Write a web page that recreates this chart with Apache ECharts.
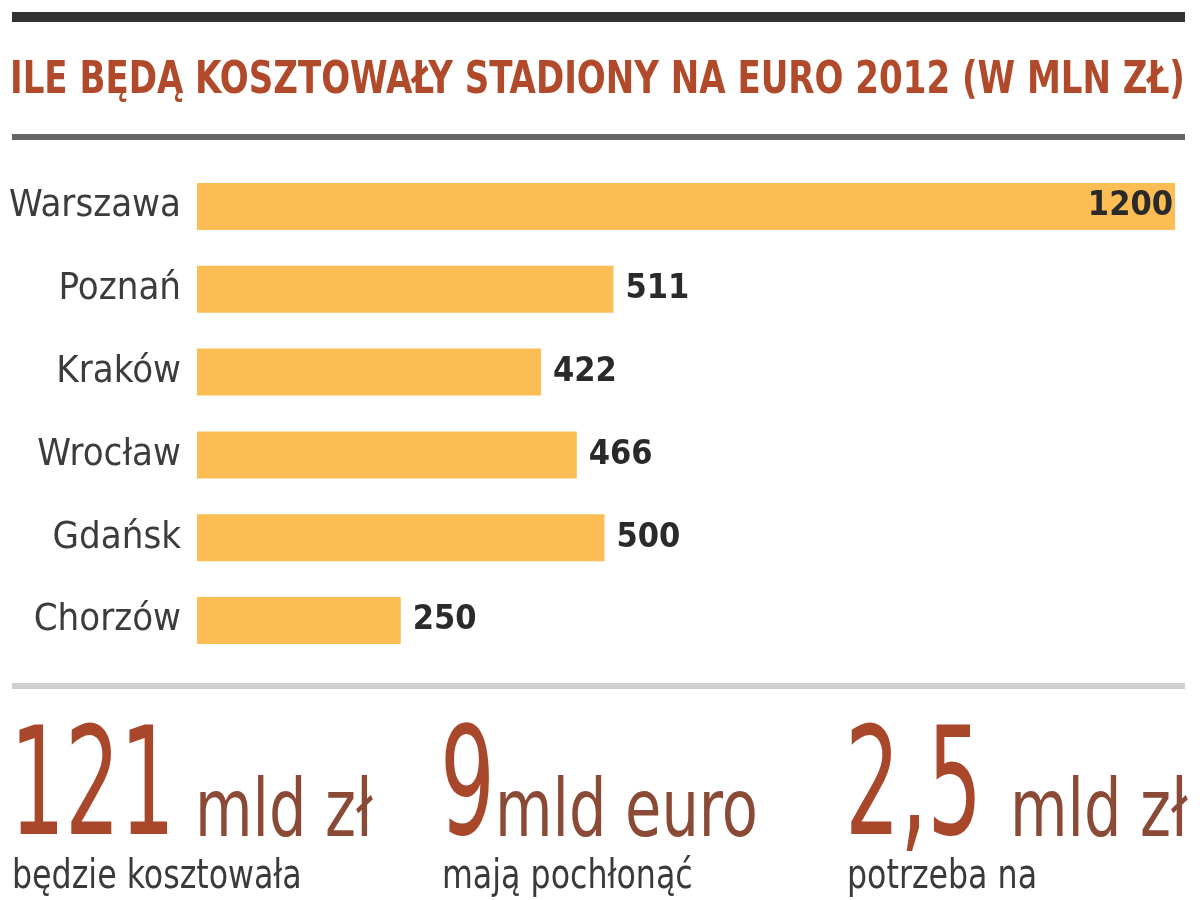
<!DOCTYPE html>
<html>
<head>
<meta charset="utf-8">
<script src="https://cdn.jsdelivr.net/npm/echarts@6/dist/echarts.min.js"></script>
<style>
  html, body { margin: 0; padding: 0; background: #fff; }
  #chart { width: 1200px; height: 900px; }
</style>
</head>
<body>
<div id="chart"></div>
<script>
// koszty stadionów (mln zł)
const cities = ['Warszawa', 'Poznań', 'Kraków', 'Wrocław', 'Gdańsk', 'Chorzów']
const costs = [1200, 511, 422, 466, 500, 250]

const bigNumbers = ['121', '9', '2,5']
const bigUnits = ['mld zł', 'mld euro', 'mld zł']
const captions = ['będzie kosztowała', 'mają pochłonąć', 'potrzeba na']

const narrow = '"Liberation Sans Narrow", "DejaVu Sans Condensed", "Roboto Condensed", sans-serif'
const brick = '#a9472b'

const chart = echarts.init(document.getElementById('chart'))

const colX = [10, 440, 845]
const unitX = [195, 495, 1010]

const bottomTexts = []
bigNumbers.forEach((n, i) => {
  bottomTexts.push({
    type: 'text', x: colX[i], y: 870, scaleX: 0.64,
    style: { text: n, font: '150px ' + narrow, fill: brick, textVerticalAlign: 'bottom' }
  })
  bottomTexts.push({
    type: 'text', x: unitX[i], y: 855, scaleX: 0.82,
    style: { text: bigUnits[i], font: '80px ' + narrow, fill: '#8a4a36', textVerticalAlign: 'bottom' }
  })
  bottomTexts.push({
    type: 'text', x: colX[i] + 2, y: 858, scaleX: 0.88,
    style: { text: captions[i], font: '40px ' + narrow, fill: '#3a3a3a', textVerticalAlign: 'top' }
  })
})

chart.setOption({
  backgroundColor: '#fff',
  animation: false,
  grid: { left: 197, right: 25, top: 165, bottom: 238, containLabel: false },
  xAxis: {
    type: 'value', min: 0, max: 1200,
    show: false
  },
  yAxis: {
    type: 'category',
    data: cities,
    inverse: true,
    axisLine: { show: false },
    axisTick: { show: false },
    splitLine: { show: false },
    axisLabel: {
      margin: 16,
      fontFamily: narrow,
      fontSize: 38,
      color: '#3c3c3c'
    }
  },
  series: [{
    type: 'bar',
    data: costs.map((v, i) => ({
      value: v,
      label: i === 0 ? { position: 'insideRight', offset: [10, 0] } : {}
    })),
    barWidth: 47,
    itemStyle: { color: '#fcbd55' },
    label: {
      show: true,
      position: 'right',
      distance: 12,
      fontFamily: narrow,
      fontWeight: 'bold',
      fontSize: 34,
      color: '#2a2a2a'
    }
  }],
  graphic: [
    { type: 'rect', shape: { x: 12, y: 12, width: 1173, height: 10 }, style: { fill: '#333' } },
    {
      type: 'text', x: 10, y: 82, scaleX: 0.86,
      style: {
        text: 'ILE BĘDĄ KOSZTOWAŁY STADIONY NA EURO 2012 (W MLN ZŁ)',
        font: 'bold 44px ' + narrow, fill: '#b04a2a', textVerticalAlign: 'middle'
      }
    },
    { type: 'rect', shape: { x: 12, y: 134, width: 1173, height: 6 }, style: { fill: '#666' } },
    { type: 'rect', shape: { x: 12, y: 683, width: 1173, height: 6 }, style: { fill: '#d0d0d0' } }
  ].concat(bottomTexts)
})
</script>
</body>
</html>
